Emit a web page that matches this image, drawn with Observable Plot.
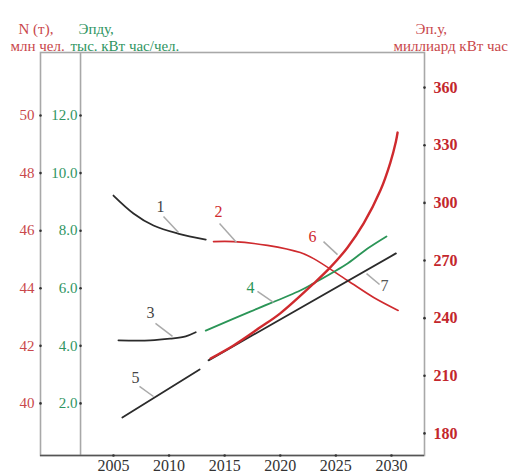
<!DOCTYPE html>
<html><head><meta charset="utf-8">
<script src="https://cdn.jsdelivr.net/npm/d3@7"></script>
<script src="https://cdn.jsdelivr.net/npm/@observablehq/plot@0.6"></script>
<style>
body{margin:0;background:#fff}
#chart svg, #chart svg text { font-family: "Liberation Serif", "Times New Roman", serif !important; }
</style>
</head><body><div id="chart"></div>
<script>
// ---- tick labels ----
const yearTicks = [2005, 2010, 2015, 2020, 2025, 2030];
const nTicks = [40, 42, 44, 46, 48, 50];                 // N (т), млн чел.
const epduTicks = [2.0, 4.0, 6.0, 8.0, 10.0, 12.0];       // Эпду, тыс. кВт час/чел.
const epuTicks = [180, 210, 240, 270, 300, 330, 360];     // Эп.у, миллиард кВт час

// ---- series ----
// 1: N, history (млн чел.)
const c1Year = [2005.0, 2006.8, 2008.6, 2010.8, 2013.3];
const c1N = [47.22, 46.60, 46.18, 45.90, 45.69];
// 2: N, forecast
const c2Year = [2014.0, 2015.8, 2018.85, 2021.8, 2023.0, 2026.05, 2028.4, 2030.6];
const c2N = [45.62, 45.62, 45.49, 45.24, 45.03, 44.27, 43.68, 43.23];
// 3: Эпду, history
const c3Year = [2005.45, 2008.3, 2010.1, 2011.5, 2012.4];
const c3E = [4.19, 4.19, 4.25, 4.33, 4.47];
// 4: Эпду, forecast
const c4Year = [2013.3, 2017.3, 2021.8, 2023.0, 2026.05, 2027.85, 2029.55];
const c4E = [4.53, 5.19, 5.92, 6.17, 6.86, 7.38, 7.80];
// 5: Эп.у, history
const c5Year = [2005.8, 2012.75];
const c5Ep = [188.3, 213.3];
// 6: Эп.у, forecast
const c6Year = [2013.73, 2015.8, 2018.2, 2020.0, 2023.0, 2024.5, 2026.05, 2027.5, 2029.0, 2029.9, 2030.4, 2030.55];
const c6Ep = [219.0, 225.8, 235.2, 242.5, 258.0, 266.4, 276.8, 289.3, 306.4, 321.0, 332.0, 336.6];
// 7: Эп.у, linear
const c7Year = [2013.55, 2030.4];
const c7Ep = [218.0, 273.7];

// ---- curve labels ----
const labelText = ["1", "2", "3", "4", "5", "6", "7"];
const labelYear = [2009.23, 2014.45, 2008.33, 2017.32, 2006.98, 2022.9, 2029.37];
const labelN = [46.84, 46.67, 43.13, 44.03, 40.90, 45.80, 44.10];
const leadYear1 = [2009.5, 2014.54, 2008.78, 2017.95, 2007.34, 2023.89, 2027.76];
const leadN1 = [46.49, 46.25, 42.78, 43.89, 40.59, 45.62, 44.51];
const leadYear2 = [2010.85, 2016.07, 2010.31, 2019.39, 2008.6, 2025.15, 2028.93];
const leadN2 = [45.94, 45.59, 42.33, 43.51, 40.24, 45.17, 44.13];

// secondary axes mapped onto the N scale
const epduToN = e => e + 38;
const epuToN = v => 38.958 + (v - 180) * (12.012 / 180);
const innerAxisYear = 2002.04;

const RED = "#cf2a2e", GREEN = "#2b9557", BLACK = "#2b2b2b";
const rows = (ys, vs, f) => ys.map((y, i) => ({year: y, y: f(vs[i])}));
const id = v => v;

const labels = labelText.map((t, i) => ({t, x: labelYear[i], y: labelN[i]}));
const leaders = labelText.map((t, i) => ({x1: leadYear1[i], y1: leadN1[i], x2: leadYear2[i], y2: leadN2[i]}));
const labelColor = {"1": "#444", "2": RED, "3": "#444", "4": GREEN, "5": "#444", "6": RED, "7": "#555"};

const font = "Liberation Serif";

const chart = Plot.plot({
  width: 517, height: 475,
  marginLeft: 40, marginRight: 93, marginTop: 52, marginBottom: 20,
  x: {domain: [1998.44, 2032.97], axis: null},
  y: {domain: [38.19, 52.19], axis: null},
  style: {fontFamily: font, background: "#fff"},
  marks: [
    Plot.frame({stroke: "#a8a8a8", strokeWidth: 1.6}),
    Plot.ruleX([innerAxisYear], {stroke: "#a8a8a8", strokeWidth: 1.6}),
    Plot.ruleY([38.19], {stroke: "#555", strokeWidth: 1.4}),
    // left N axis
    Plot.dot(nTicks, {y: d => d, frameAnchor: "left", r: 1.3, fill: "#333"}),
    Plot.text(nTicks, {y: d => d, frameAnchor: "left", text: d => String(d), textAnchor: "end", dx: -6, fill: "#c9474b", fontSize: 15, fontFamily: font}),
    // inner Эпду axis
    Plot.dot(epduTicks, {x: () => innerAxisYear, y: d => epduToN(d), r: 1.3, fill: "#333"}),
    Plot.text(epduTicks, {x: () => innerAxisYear, y: d => epduToN(d), text: d => d.toFixed(1), textAnchor: "end", dx: -3, fill: "#2f9562", fontSize: 15, fontFamily: font}),
    // right Эп.у axis
    Plot.dot(epuTicks, {y: d => epuToN(d), frameAnchor: "right", r: 1.3, fill: "#333"}),
    Plot.text(epuTicks, {y: d => epuToN(d), frameAnchor: "right", text: d => String(d), textAnchor: "start", dx: 9, fill: "#c3262c", fontWeight: "bold", fontSize: 16, fontFamily: font}),
    // x axis
    Plot.dot(yearTicks, {x: d => d, frameAnchor: "bottom", r: 1.3, fill: "#333"}),
    Plot.text(yearTicks, {x: d => d, frameAnchor: "bottom", text: d => String(d), dy: 15, fill: "#333", fontSize: 16, fontFamily: font}),
    // curves
    Plot.line(rows(c1Year, c1N, id), {x: "year", y: "y", curve: "catmull-rom", stroke: BLACK, strokeWidth: 1.8}),
    Plot.line(rows(c2Year, c2N, id), {x: "year", y: "y", curve: "catmull-rom", stroke: RED, strokeWidth: 1.6}),
    Plot.line(rows(c3Year, c3E, epduToN), {x: "year", y: "y", curve: "catmull-rom", stroke: BLACK, strokeWidth: 1.8}),
    Plot.line(rows(c4Year, c4E, epduToN), {x: "year", y: "y", curve: "catmull-rom", stroke: GREEN, strokeWidth: 1.8}),
    Plot.line(rows(c5Year, c5Ep, epuToN), {x: "year", y: "y", stroke: BLACK, strokeWidth: 1.8}),
    Plot.line(rows(c7Year, c7Ep, epuToN), {x: "year", y: "y", stroke: BLACK, strokeWidth: 1.8}),
    Plot.line(rows(c6Year, c6Ep, epuToN), {x: "year", y: "y", curve: "catmull-rom", stroke: RED, strokeWidth: 2.4}),
    // labels
    Plot.link(leaders, {x1: "x1", y1: "y1", x2: "x2", y2: "y2", stroke: "#aaa", strokeWidth: 1.5}),
    Plot.text(labels, {x: "x", y: "y", text: "t", fill: d => labelColor[d.t], fontSize: 16, fontFamily: font, fontWeight: d => d.t === "6" ? "bold" : "normal"}),
    // titles
    Plot.text(["N (т),"], {frameAnchor: "top-left", textAnchor: "start", dx: -22, dy: -29, fill: "#c9474b", fontSize: 15, fontFamily: font}),
    Plot.text(["млн чел."], {frameAnchor: "top-left", textAnchor: "start", dx: -30, dy: -12, fill: "#c9474b", fontSize: 15, fontFamily: font}),
    Plot.text(["Эпду,"], {frameAnchor: "top-left", textAnchor: "start", dx: 38, dy: -29, fill: "#2f9562", fontSize: 15, fontFamily: font}),
    Plot.text(["тыс. кВт час/чел."], {frameAnchor: "top-left", textAnchor: "start", dx: 30, dy: -12, fill: "#2f9562", fontSize: 15, fontFamily: font}),
    Plot.text(["Эп.у,"], {frameAnchor: "top-right", textAnchor: "start", dx: -9, dy: -29, fill: "#c9474b", fontSize: 15, fontFamily: font}),
    Plot.text(["миллиард кВт час"], {frameAnchor: "top-right", textAnchor: "start", dx: -31, dy: -12, fill: "#c9474b", fontSize: 15, fontFamily: font})
  ]
});
document.getElementById("chart").appendChild(chart);
</script>
</body></html>
